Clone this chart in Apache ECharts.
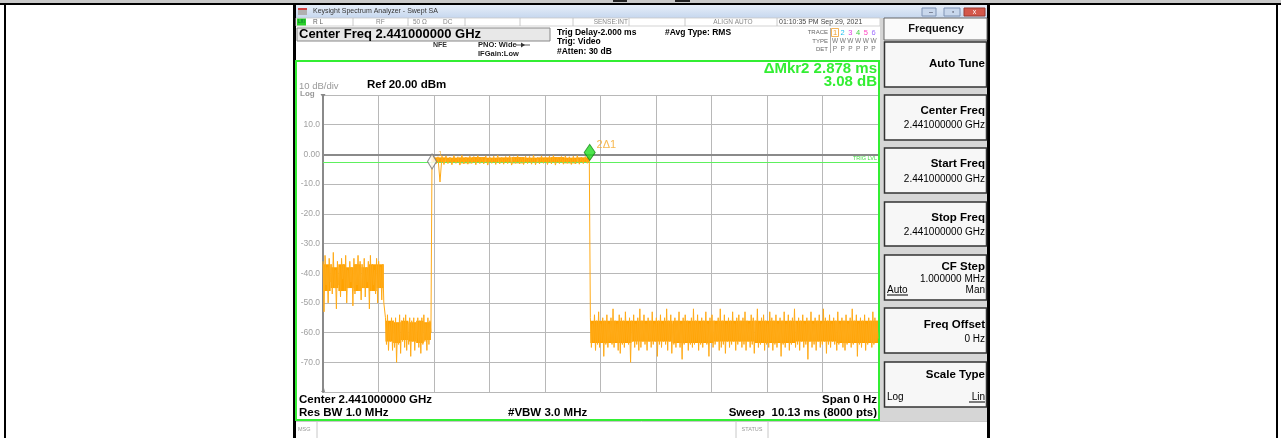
<!DOCTYPE html>
<html><head><meta charset="utf-8">
<script src="https://cdn.jsdelivr.net/npm/echarts@6/dist/echarts.min.js"></script>
<style>html,body{margin:0;padding:0;background:#fff;}#c{width:1281px;height:438px;}</style>
</head><body><div id="c"></div><script>
// ---- data ----
const SWEEP_MS = 10.13;            // x axis: time, 0 .. 10.13 ms
const REF_LEVEL = 20;              // dBm, top of screen
const BOTTOM_LEVEL = -80;
const Y_TICKS = [10, 0, -10, -20, -30, -40, -50, -60, -70];
const TRIG_LEVEL = -2.6;

// trace segments: [start ms, end ms] and peak/trough values (dBm)
const seg1Span = [0, 1.11];
const seg1Vals = [-36,-53,-34,-44,-38,-50,-35,-43,-37,-47,-33,-45,-39,-52,-36,-44,-38,-48,-35,-42,
                  -37,-46,-34,-50,-39,-45,-36,-43,-38,-51,-35,-47,-37,-44,-34,-46,-36,-49,-37,-45,
                  -35,-48,-38,-43,-36,-52,-34,-46,-37,-44,-39,-47,-35,-50,-36,-45,-38,-49,-37,-50];
const seg2Span = [1.14, 1.97];
const seg2Vals = [-55,-64,-54,-66,-57,-63,-55,-66,-56,-65,-55,-70,-57,-64,-54,-67,-56,-63,-55,-65,
                  -54,-66,-57,-64,-55,-68,-56,-63,-55,-66,-57,-62,-55,-65,-56,-67,-55,-64,-54,-63,
                  -57,-66,-55,-64,-56,-60];
const burstSpan = [1.99, 4.86];
const burstVals = [-0.2,-1.0,-3.2,-0.8,-9.3,-0.6,-3.4,-0.5,-3.1,-0.9,-3.5,-0.4,-3.0,-0.8,-3.6,-0.3,
                   -3.2,-0.9,-3.3,-0.6,-3.0,-0.7,-3.5,-0.4,-3.1,-0.9,-3.2,-0.5,-3.6,-0.8,-3.0,-0.6,
                   -3.4,-0.3,-3.2,-1.0,-3.3,-0.7,-3.1,-0.5,-3.6,-0.8,-3.0,-0.4,-3.2,-0.9,-3.4,-0.6,
                   -3.1,-0.7,-3.3,-0.3,-3.5,-1.0,-3.2,-0.5,-3.0,-0.8,-3.4,-0.6,-3.2,-0.4,-3.6,-0.9,
                   -3.1,-0.7,-3.3,-0.5,-3.0,-0.8,-3.4,-0.6,-3.2,-0.4,-3.3,-0.9,-3.1,-0.7,-3.0,-0.4];
const seg4Span = [4.88, 10.13];
const seg4Vals = [
  -55,-65,-57,-63,-54,-66,-56,-64,-53,-65,-57,-63,-55,-68,-56,-64,-54,-65,-57,-63,
  -55,-64,-52,-65,-56,-63,-57,-66,-54,-67,-55,-64,-56,-65,-53,-63,-57,-64,-55,-70,
  -56,-63,-54,-65,-57,-64,-55,-66,-52,-65,-56,-63,-54,-64,-57,-66,-55,-63,-56,-65,
  -53,-64,-57,-63,-55,-68,-56,-64,-54,-65,-57,-63,-55,-64,-52,-66,-56,-63,-54,-67,
  -57,-64,-55,-65,-56,-63,-53,-65,-57,-69,-55,-64,-54,-63,-56,-66,-57,-64,-55,-65,
  -52,-64,-56,-63,-54,-66,-57,-64,-55,-65,-56,-63,-53,-64,-57,-68,-55,-63,-54,-65,
  -56,-64,-57,-63,-55,-66,-52,-65,-56,-64,-54,-67,-57,-63,-55,-65,-56,-64,-53,-63,
  -57,-66,-55,-64,-54,-63,-56,-65,-55,-64,-53,-66,-56,-63,-57,-65,-54,-64,-55,-67,
  -56,-63,-52,-65,-57,-64,-55,-63,-54,-66,-56,-64,-57,-65,-53,-63,-55,-66,-56,-64,
  -54,-65,-57,-63,-55,-68,-56,-64,-53,-65,-57,-63,-54,-66,-56,-64,-55,-63,-52,-65,
  -57,-64,-55,-66,-56,-63,-54,-65,-57,-64,-55,-69,-56,-63,-53,-65,-57,-64,-55,-66,
  -56,-63,-54,-65,-57,-64,-52,-63,-55,-67,-56,-64,-54,-65,-57,-63,-55,-64,-56,-66,
  -53,-64,-57,-63,-55,-65,-56,-66,-54,-64,-57,-63,-55,-65,-52,-64,-56,-63,-54,-68,
  -57,-64,-55,-65,-56,-63,-54,-66,-57,-64,-55,-63,-56,-65,-53,-64,-55,-63,-56,-62];

// dense core of the 8000-point trace: [from ms, to ms, low dBm, high dBm]
const seg1Core = [[0.00,0.14,-46,-37],[0.14,0.28,-45,-38],[0.28,0.42,-46,-37],[0.42,0.56,-45,-38],
                  [0.56,0.70,-46,-37],[0.70,0.84,-45,-38],[0.84,0.98,-46,-37],[0.98,1.11,-45,-37]];
const seg2Core = [[1.14,1.28,-63,-56],[1.28,1.42,-63.5,-56.5],[1.42,1.56,-62.5,-56],[1.56,1.70,-63,-56.5],
                  [1.70,1.84,-63.5,-56],[1.84,1.97,-62.5,-56.5]];
const burstCore = [[2.00,2.24,-2.9,-1.0],[2.24,2.48,-2.8,-1.1],[2.48,2.72,-3.0,-1.0],[2.72,2.96,-2.9,-0.9],
                   [2.96,3.20,-2.9,-1.1],[3.20,3.44,-2.8,-1.0],[3.44,3.68,-3.0,-0.9],[3.68,3.92,-2.9,-1.1],
                   [3.92,4.16,-2.9,-1.0],[4.16,4.40,-2.8,-0.9],[4.40,4.64,-3.0,-1.1],[4.64,4.86,-2.9,-1.0]];
const seg4Core = [[4.88,5.63,-63.5,-56],[5.63,6.38,-63,-56],[6.38,7.13,-63.5,-56],[7.13,7.88,-63,-56],
                  [7.88,8.63,-63.5,-56],[8.63,9.38,-63,-56],[9.38,10.13,-63.5,-56]];

// markers [ms, dBm]
const marker1 = [1.99, -2.4];
const marker2 = [4.868, 0.68];

// ---- build ----
function place(span, vals){
  const n = vals.length;
  return vals.map((v,i)=>[span[0] + (span[1]-span[0])*i/(n-1), v]);
}
const traceData = [].concat(place(seg1Span,seg1Vals), place(seg2Span,seg2Vals),
                            place(burstSpan,burstVals), place(seg4Span,seg4Vals));
const coreData = [].concat(seg1Core, seg2Core, burstCore, seg4Core);

const FF = "'Liberation Sans', Arial, sans-serif";
const G = [];
function R(x,y,w,h,fill,stroke,lw,z){ G.push({type:'rect',z:z||1,shape:{x,y,width:w,height:h},style:{fill:fill||'none',stroke:stroke||null,lineWidth:lw||0}}); }
function L(x1,y1,x2,y2,stroke,lw){ G.push({type:'line',z:2,shape:{x1,y1,x2,y2},style:{stroke,lineWidth:lw||1}}); }
function T(x,y,text,size,color,opt){ opt=opt||{};
  G.push({type:'text',z:5,style:{x,y,text,fill:color||'#000',font:(opt.bold?'bold ':'')+size+'px '+FF,
    textAlign:opt.align||'left',textVerticalAlign:'middle'}}); }

// document frame
R(0,0,1281,3,'#c8c8c8');
R(0,3,1281,2,'#000');
R(613,0,14,2,'#222'); R(675,0,15,2,'#222');
R(4,3,2,435,'#000');
R(293,3,3,435,'#000');
R(987,3,3,435,'#000');
R(1276,3,2,435,'#000');

// title bar
G.push({type:'rect',z:1,shape:{x:296,y:5,width:691,height:13},style:{fill:new echarts.graphic.LinearGradient(0,0,0,1,[{offset:0,color:'#e6eef9'},{offset:1,color:'#c6d7ee'}])}});
R(298,8,9,7,'#b0b0b0'); R(298,8,9,2,'#d04040');
T(313,11.5,'Keysight Spectrum Analyzer - Swept SA',7,'#333');
R(922,8,14,8,'#c8d7ec','#7f93b5',1); R(944,8,16,8,'#c8d7ec','#7f93b5',1); R(964,8,21,8,'#d4574a','#9a3a30',1);
T(929,12,'–',7,'#334'); T(952,12,'▫',7,'#334'); T(974.5,12,'x',7,'#fff',{align:'center'});

// status row
R(296,18,584,8,'#fff','#c8c8c8',0.8);
R(297,18.5,9,7,'#2ad12a');
T(298,22,'LXI',4.5,'#063');
[353,408,465,520,573,629,685,777].forEach(x=>L(x,18,x,26,'#bdbdbd',0.8));
T(313,22,'R L',6.5,'#666');
T(376,22,'RF',6.5,'#888');
T(413,22,'50 Ω',6.5,'#888');
T(443,22,'DC',6.5,'#888');
T(628,22,'SENSE:INT',6.5,'#888',{align:'right'});
T(733,22,'ALIGN AUTO',6.5,'#888',{align:'center'});
T(779,22,'01:10:35 PM Sep 29, 2021',7,'#444');

// header info
R(297,28,253,13,'#e8e8e8','#888',1);
T(299,34.5,'Center Freq 2.441000000 GHz',13,'#000',{bold:true});
T(433,45,'NFE',7,'#333',{bold:true});
T(478,45,'PNO: Wide',7.5,'#222',{bold:true});
L(516,45,530,45,'#333',0.8); G.push({type:'polygon',z:3,shape:{points:[[521,42.5],[521,47.5],[525,45]]},style:{fill:'#333'}});
T(478,54,'IFGain:Low',7.5,'#222',{bold:true});
T(557,33,'Trig Delay-2.000 ms',8.5,'#000',{bold:true});
T(557,42,'Trig: Video',8.5,'#000',{bold:true});
T(557,52,'#Atten: 30 dB',8.5,'#000',{bold:true});
T(665,33,'#Avg Type: RMS',8.5,'#000',{bold:true});
T(828,32,'TRACE',6,'#666',{align:'right'});
T(828,41,'TYPE',6,'#666',{align:'right'});
T(828,49.5,'DET',6,'#666',{align:'right'});
L(830.5,28,830.5,53,'#999',0.8);
R(831.5,28.5,7,8,'#fff','#f0a030',0.8);
const trColors=['#f0a030','#20c0f0','#e040e0','#40d040','#ff40c0','#a070ff'];
trColors.forEach((c,i)=>{ T(835+i*7.7,32.5,String(i+1),7.5,c,{align:'center'});
  T(835+i*7.7,41,'W',6.5,'#777',{align:'center'}); T(835+i*7.7,49.5,'P',6.5,'#777',{align:'center'}); });

// plot frame and texts
R(296,61,583,359,'none','#33ee33',2,3);
T(877,69,'ΔMkr2 2.878 ms',15,'#33ee33',{bold:true,align:'right'});
T(877,82,'3.08 dB',15,'#33ee33',{bold:true,align:'right'});
T(299,86,'10 dB/div',9.5,'#999');
T(300,93.5,'Log',8,'#999',{bold:true});
T(367,85,'Ref 20.00 dBm',11.5,'#000',{bold:true});
G.push({type:'polygon',z:4,shape:{points:[[320.5,94],[325.5,94],[323,98]]},style:{fill:'#888'}});
G.push({type:'polygon',z:4,shape:{points:[[321,392],[324,388],[325,392]]},style:{fill:'#888'}});
T(299,400,'Center 2.441000000 GHz',11.5,'#000',{bold:true});
T(299,413,'Res BW 1.0 MHz',11.5,'#000',{bold:true});
T(508,413,'#VBW 3.0 MHz',11.5,'#000',{bold:true});
T(877,400,'Span 0 Hz',11.5,'#000',{bold:true,align:'right'});
T(877,413,'Sweep  10.13 ms (8000 pts)',11.5,'#000',{bold:true,align:'right'});

// bottom status strip
L(296,421.5,987,421.5,'#c8c8c8',1);
L(317,422,317,438,'#c8c8c8',1);
T(298,429,'MSG',5.5,'#999');
L(736,422,736,438,'#c8c8c8',1); L(768,422,768,438,'#c8c8c8',1);
T(752,429,'STATUS',5.5,'#999',{align:'center'});

// softkey panel
R(880,18,107,403,'#d6d6d6');
R(884,18,103,22,'#fafafa','#666',1);
T(936,29,'Frequency',11,'#111',{align:'center',bold:true});
const keys=[[42,45],[95,45],[148,45],[202,44],[255,45],[308,45],[362,45]];
keys.forEach(k=>R(884.5,k[0],102,k[1],'#f7f7f7','#333',1.5));
const RX=985;
T(RX,64,'Auto Tune',11.5,'#000',{bold:true,align:'right'});
T(RX,111,'Center Freq',11.5,'#000',{bold:true,align:'right'});
T(RX,125.5,'2.441000000 GHz',10,'#000',{align:'right'});
T(RX,164,'Start Freq',11.5,'#000',{bold:true,align:'right'});
T(RX,179,'2.441000000 GHz',10,'#000',{align:'right'});
T(RX,217.5,'Stop Freq',11.5,'#000',{bold:true,align:'right'});
T(RX,232,'2.441000000 GHz',10,'#000',{align:'right'});
T(RX,267,'CF Step',11.5,'#000',{bold:true,align:'right'});
T(RX,279,'1.000000 MHz',10,'#000',{align:'right'});
T(887,290,'Auto',10,'#000'); L(887,295,908,295,'#000',1);
T(RX,290,'Man',10,'#000',{align:'right'});
T(RX,325,'Freq Offset',11.5,'#000',{bold:true,align:'right'});
T(RX,339,'0 Hz',10,'#000',{align:'right'});
T(RX,375,'Scale Type',11.5,'#000',{bold:true,align:'right'});
T(887,397,'Log',10,'#000');
T(RX,397,'Lin',10,'#000',{align:'right'}); L(969,402,985,402,'#000',1);

const chart = echarts.init(document.getElementById('c'), null, {renderer:'canvas'});
chart.setOption({
  animation:false,
  backgroundColor:'#fff',
  grid:{left:323, top:95, width:555, height:297},
  xAxis:{type:'value', min:0, max:SWEEP_MS, interval:SWEEP_MS/10,
    axisLabel:{show:false}, axisTick:{show:false},
    axisLine:{show:true, lineStyle:{color:'#8a8a8a', width:2}},
    splitLine:{show:true, lineStyle:{color:'#b8b8b8', width:1}}},
  yAxis:{type:'value', min:BOTTOM_LEVEL, max:REF_LEVEL, interval:10,
    axisTick:{show:false},
    axisLine:{show:true, lineStyle:{color:'#8a8a8a', width:2}},
    splitLine:{show:true, lineStyle:{color:'#b8b8b8', width:1}},
    axisLabel:{margin:3, fontSize:8.5, color:'#a0a0a0', fontFamily:FF,
      formatter:v=> Y_TICKS.indexOf(v)<0 ? '' : (v===0 ? '0.00' : v.toFixed(1))}},
  series:[
    {type:'custom', data:coreData, z:4, encode:{x:[0,1], y:[2,3]},
     renderItem:(params, api)=>{
       const a = api.coord([api.value(0), api.value(3)]);
       const b = api.coord([api.value(1), api.value(2)]);
       return {type:'rect', shape:{x:a[0], y:a[1], width:b[0]-a[0], height:b[1]-a[1]}, style:{fill:'#ffa200'}};
     }},
    {type:'line', data:traceData, symbol:'none', z:5,
     lineStyle:{color:'#ffab18', width:1},
     markLine:{silent:true, symbol:'none', animation:false,
       lineStyle:{color:'#5ef05e', width:1, type:'solid'},
       label:{show:true, position:'insideEndTop', formatter:'TRIG LVL', fontSize:5.5, color:'#44dd44', distance:1, fontFamily:FF},
       data:[{yAxis:TRIG_LEVEL}]}},
    {type:'scatter', z:8, data:[
       {value:marker1, symbol:'diamond', symbolSize:[9,15],
        itemStyle:{color:'#ffffff', borderColor:'#777', borderWidth:1.2},
        label:{show:true, formatter:'1', position:'right', distance:1, offset:[0,-8], fontSize:8, color:'#f5a623', fontFamily:FF}},
       {value:marker2, symbol:'diamond', symbolSize:[11,16],
        itemStyle:{color:'#22dd22', borderColor:'#118811', borderWidth:1},
        label:{show:true, formatter:'2Δ1', position:'right', distance:1, offset:[0,-7], fontSize:11, color:'#f5a623', fontFamily:FF}}
    ]}
  ],
  graphic:G
});
</script></body></html>
